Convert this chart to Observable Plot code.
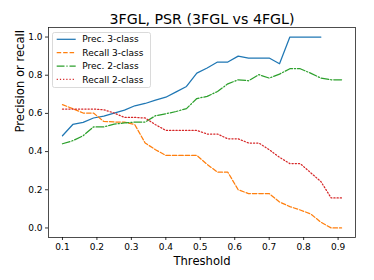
<!DOCTYPE html>
<html>
<head>
<meta charset="utf-8">
<script src="https://cdn.jsdelivr.net/npm/d3@7"></script>
<script src="https://cdn.jsdelivr.net/npm/@observablehq/plot@0.6"></script>
<style>
  body { margin: 0; background: white; }
  #chart { position: relative; width: 374px; height: 280px; font-family: "DejaVu Sans", sans-serif; }
  #legend { position: absolute; left: 0; top: 0; }
</style>
</head>
<body>
<div id="chart"></div>
<script>
const title = "3FGL, PSR (3FGL vs 4FGL)";
const xLabel = "Threshold";
const yLabel = "Precision or recall";
const thresholds = [0.10, 0.13, 0.16, 0.19, 0.22, 0.25, 0.28, 0.31, 0.34, 0.37, 0.40, 0.43, 0.46, 0.49,
                    0.52, 0.55, 0.58, 0.61, 0.64, 0.67, 0.70, 0.73, 0.76, 0.79, 0.82, 0.85, 0.88, 0.91];
const seriesNames = ["Prec. 3-class", "Recall 3-class", "Prec. 2-class", "Recall 2-class"];
const prec3 = [0.483, 0.542, 0.553, 0.576, 0.586, 0.602, 0.617, 0.640, 0.652, 0.670, 0.685, 0.713, 0.741, 0.811,
               0.838, 0.869, 0.869, 0.900, 0.890, 0.890, 0.890, 0.860, 1.000, 1.000, 1.000, 1.000];
const recall3 = [0.646, 0.625, 0.602, 0.602, 0.558, 0.555, 0.555, 0.541, 0.445, 0.410, 0.380, 0.380, 0.380, 0.380,
                 0.333, 0.292, 0.292, 0.200, 0.180, 0.180, 0.180, 0.136, 0.112, 0.094, 0.074, 0.030, 0.000, 0.000];
const prec2 = [0.441, 0.457, 0.483, 0.529, 0.529, 0.544, 0.550, 0.555, 0.555, 0.588, 0.598, 0.610, 0.625, 0.678,
               0.689, 0.715, 0.755, 0.776, 0.771, 0.803, 0.785, 0.806, 0.834, 0.834, 0.811, 0.785, 0.776, 0.776];
const recall2 = [0.623, 0.623, 0.623, 0.623, 0.619, 0.602, 0.579, 0.579, 0.576, 0.541, 0.511, 0.511, 0.511, 0.511,
                 0.492, 0.492, 0.467, 0.467, 0.445, 0.445, 0.410, 0.370, 0.337, 0.337, 0.290, 0.243, 0.157, 0.157];
const xTicks = [0.1, 0.2, 0.3, 0.4, 0.5, 0.6, 0.7, 0.8, 0.9];
const yTicks = [0.0, 0.2, 0.4, 0.6, 0.8, 1.0];

const seriesValues = [prec3, recall3, prec2, recall2];
const colors = ["#1f77b4", "#ff7f0e", "#2ca02c", "#d62728"];
const dashes = [null, "4.5,1.95", "7.8,1.9,1.2,1.9", "1.2,2"];

const fmt = d3.format(".1f");
const lineMarks = seriesValues.map((vals, k) =>
  Plot.line(vals.map((v, i) => ({t: thresholds[i], v, s: seriesNames[k]})), {
    x: "t", y: "v", stroke: colors[k], strokeWidth: 1.25,
    strokeDasharray: dashes[k] || undefined
  })
);

const plot = Plot.plot({
  width: 374, height: 280,
  marginLeft: 48, marginRight: 19, marginTop: 27, marginBottom: 43,
  x: {domain: [0.0595, 0.9505]},
  y: {domain: [-0.05, 1.05]},
  style: {fontFamily: "DejaVu Sans", fontSize: "9px", color: "black", background: "white"},
  marks: [
    ...lineMarks,
    Plot.frame({stroke: "#222", strokeWidth: 0.8}),
    Plot.axisX({ticks: xTicks, tickFormat: fmt, tickSize: 3, tickPadding: 3, label: null, strokeWidth: 0.8}),
    Plot.axisY({ticks: yTicks, tickFormat: fmt, tickSize: 3, tickPadding: 3, label: null, strokeWidth: 0.8}),
    Plot.text([title], {frameAnchor: "top", dy: -4, lineAnchor: "bottom", fontSize: 14.2, text: d => d}),
    Plot.text([xLabel], {frameAnchor: "bottom", dy: 27, lineAnchor: "bottom", fontSize: 11.6, text: d => d}),
    Plot.text([yLabel], {frameAnchor: "left", dx: -28, rotate: -90, lineAnchor: "middle", fontSize: 11.6, text: d => d})
  ]
});
const chart = document.getElementById("chart");
chart.appendChild(plot);

// Legend (matplotlib-style, upper left)
const lg = d3.select(chart).append("svg").attr("id", "legend")
  .attr("width", 374).attr("height", 280)
  .style("pointer-events", "none");
const box = {x: 52.5, y: 32.5, w: 98, h: 55};
lg.append("rect").attr("x", box.x).attr("y", box.y).attr("width", box.w).attr("height", box.h)
  .attr("rx", 2).attr("fill", "white").attr("fill-opacity", 0.8)
  .attr("stroke", "#d0d0d0").attr("stroke-width", 0.8);
seriesNames.forEach((name, k) => {
  const cy = 39.3 + k * 13.35;
  lg.append("line").attr("x1", 56.7).attr("x2", 75.7).attr("y1", cy).attr("y2", cy)
    .attr("stroke", colors[k]).attr("stroke-width", 1.25)
    .attr("stroke-dasharray", dashes[k]);
  lg.append("text").attr("x", 82.3).attr("y", cy).attr("dy", "0.35em")
    .attr("font-family", "DejaVu Sans").attr("font-size", 9).attr("fill", "black")
    .text(name);
});
</script>
</body>
</html>
